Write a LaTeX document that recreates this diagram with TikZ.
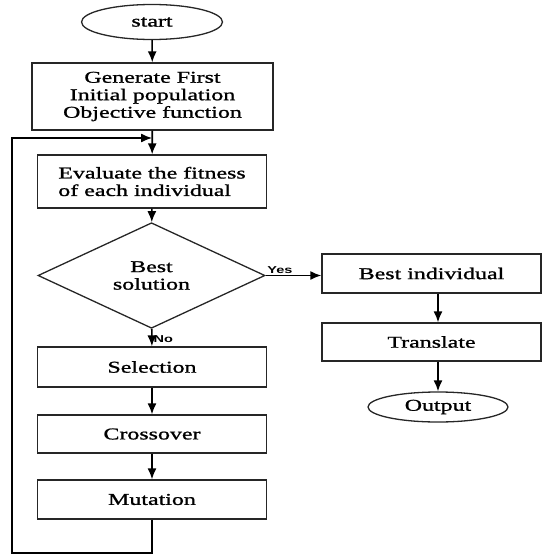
\documentclass[tikz,border=0pt]{standalone}
\usepackage{fontspec}
\setmainfont{Liberation Serif}[FakeStretch=1.45,FakeBold=1.2]
\newfontfamily\lblfont{Liberation Sans}[FakeStretch=1.45]
\usetikzlibrary{shapes.geometric,arrows.meta}
\tikzset{
  box/.style={draw=black!85,line width=1.3pt,inner sep=0pt,align=center,
    font=\fontsize{16.5}{17.5}\selectfont},
  oval/.style={box,ellipse},
  choice/.style={box,diamond},
  lbl/.style={font=\lblfont\bfseries\fontsize{10}{11}\selectfont,inner sep=1pt}
}
\begin{document}
\begin{tikzpicture}[x=1pt,y=-1pt,>={Latex[length=11pt,width=9pt]},line width=1.6pt]
\useasboundingbox (0,0) rectangle (543,554);
\node[oval,minimum width=141pt,minimum height=35pt] (start) at (152,22) {start};
\node[box,minimum width=241pt,minimum height=67pt] (gen) at (152.5,96.5) {Generate First\\Initial population\\Objective function};
\node[box,minimum width=229pt,minimum height=53pt,align=left] (eval) at (152,181.5) {Evaluate the fitness\\of each individual};
\node[choice,minimum width=227pt,minimum height=87pt] (best) at (151.5,275.5) {Best\\solution};
\node[box,minimum width=229pt,minimum height=40pt] (sel) at (152,367) {Selection};
\node[box,minimum width=229pt,minimum height=38pt] (cross) at (152,434) {Crossover};
\node[box,minimum width=229pt,minimum height=39pt] (mut) at (152,499.5) {Mutation};
\node[box,minimum width=219pt,minimum height=39pt] (bestind) at (431.5,273.5) {Best individual};
\node[box,minimum width=219pt,minimum height=38pt] (trans) at (431.5,342) {Translate};
\node[oval,minimum width=140pt,minimum height=30pt] (outp) at (438,407) {Output};
\coordinate (lbot) at (12,553);
\coordinate (ltop) at (12,138);
\draw[->] (start) -- (gen);
\draw[->] (gen) -- (eval);
\draw[->] (eval) -- (best);
\draw[->] (best.east) -- (best.east -| bestind.west) node[lbl,pos=0,above right] {Yes};
\draw[->] (best) -- (sel) node[lbl,pos=0.6,right] {No};
\draw[->] (sel) -- (cross);
\draw[->] (cross) -- (mut);
\draw[->] (bestind.south -| outp.north) -- (trans.north -| outp.north);
\draw[->] (trans.south -| outp.north) -- (outp.north);
\draw[->,line width=1.3pt] (mut.south) -- (mut.south |- lbot) -- (lbot) -- (ltop) -- (ltop -| eval.north);
\end{tikzpicture}
\end{document}
